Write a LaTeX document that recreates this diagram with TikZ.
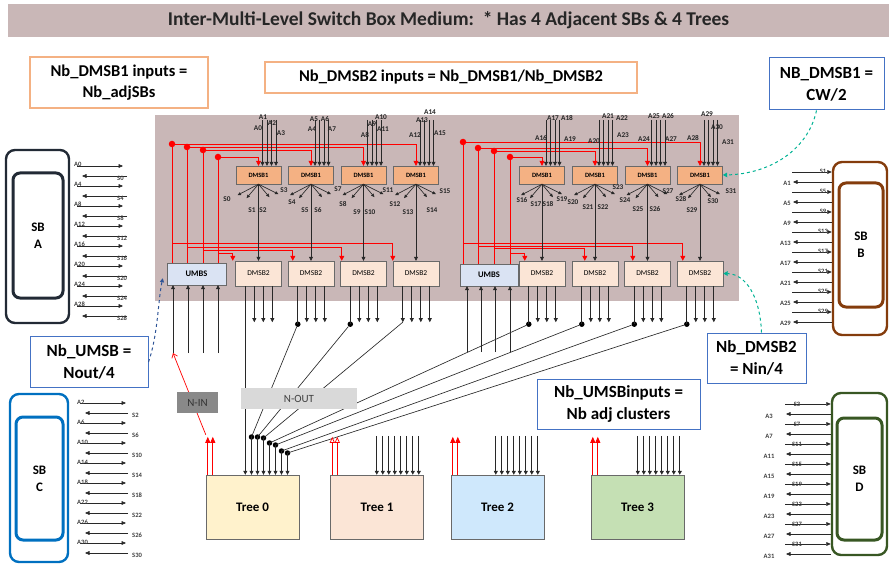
\documentclass[tikz,border=0pt]{standalone}
\usepackage{fontspec}
\setmainfont{Carlito}
\usetikzlibrary{arrows.meta,calc}
\definecolor{mauve}{RGB}{201,183,183}
\definecolor{dmsbone}{RGB}{244,177,131}
\definecolor{dmsbtwo}{RGB}{251,229,214}
\definecolor{umbsc}{RGB}{218,227,243}
\definecolor{treezero}{RGB}{255,242,204}
\definecolor{treeone}{RGB}{251,229,214}
\definecolor{treetwo}{RGB}{207,232,252}
\definecolor{treethree}{RGB}{197,224,180}
\definecolor{orangeb}{RGB}{244,177,131}
\definecolor{blueb}{RGB}{68,114,196}
\definecolor{sbAc}{RGB}{34,42,53}
\definecolor{sbBc}{RGB}{132,60,12}
\definecolor{sbCc}{RGB}{0,112,192}
\definecolor{sbDc}{RGB}{56,87,35}
\definecolor{tealc}{RGB}{0,178,148}
\definecolor{dblue}{RGB}{47,85,151}
\definecolor{boxgray}{RGB}{105,105,105}
\definecolor{wirec}{RGB}{40,40,40}
\definecolor{ningray}{RGB}{137,137,137}
\definecolor{noutgray}{RGB}{217,217,217}
\tikzset{
 wire/.style={draw=wirec, line width=0.65pt},
 arr/.style={wire, -{Triangle[width=4pt,length=4pt]}},
 farr/.style={wire, -{Triangle[width=3pt,length=3.5pt]}},
 sarr/.style={wire, -{Triangle[width=3.8pt,length=4.5pt]}},
 rwire/.style={draw=red, line width=0.7pt},
 rarr/.style={rwire, -{Triangle[width=5pt,length=5pt]}},
 rup/.style={rwire, -{Triangle[width=5pt,length=6pt]}},
 rdot/.style={circle, fill=red, inner sep=0, minimum size=6.5pt},
 bdot/.style={circle, fill=black, inner sep=0, minimum size=5.5pt},
 dmsbA/.style={draw=boxgray, fill=dmsbone, minimum width=45pt, minimum height=18pt, inner sep=0, font=\bfseries\fontsize{6.5}{7}\selectfont},
 dmsbB/.style={draw=boxgray, fill=dmsbtwo, minimum width=46pt, minimum height=25pt, inner sep=0, font=\fontsize{7.5}{8}\selectfont},
 umbs/.style={draw=boxgray, fill=umbsc, minimum width=59pt, minimum height=22pt, inner sep=0, font=\bfseries\fontsize{8.5}{9}\selectfont},
 tree/.style={draw=boxgray, minimum width=93pt, minimum height=64pt, inner sep=0, font=\bfseries\fontsize{13}{15}\selectfont},
 onote/.style={draw=orangeb, line width=2.2pt, fill=white, inner sep=0, align=center, font=\bfseries\fontsize{16.5}{21}\selectfont},
 bnote/.style={draw=blueb, line width=1pt, fill=white, inner sep=0, align=center, font=\bfseries\fontsize{17}{22}\selectfont},
 lab/.style={inner sep=0, font=\bfseries\fontsize{7.3}{8}\selectfont, text=black!85},
 slab/.style={inner sep=0, font=\bfseries\fontsize{6.6}{7}\selectfont, text=black!75},
 sbtext/.style={font=\bfseries\fontsize{13}{17}\selectfont, align=center},
}
\begin{document}
\begin{tikzpicture}[x=1pt,y=-1pt]
\useasboundingbox (0,0) rectangle (889,564);
% title and core
\node[fill=mauve, minimum width=881pt, minimum height=33pt, inner sep=0, font=\bfseries\fontsize{19.5}{22}\selectfont, text=black!85] (title) at (448.5,20.5) {Inter-Multi-Level Switch Box Medium:\ \ * Has 4 Adjacent SBs \& 4 Trees};
\node[fill=mauve, minimum width=584pt, minimum height=186pt, inner sep=0] (core) at (447,208) {};
% notes
\node[onote, minimum width=178pt, minimum height=51pt] (nA) at (119,82.5) {Nb\_DMSB1 inputs =\\Nb\_adjSBs};
\node[onote, minimum width=372pt, minimum height=31pt] (nB) at (451,77.5) {Nb\_DMSB2 inputs = Nb\_DMSB1/Nb\_DMSB2};
\node[bnote, minimum width=115pt, minimum height=52pt] (nC) at (826.5,84) {NB\_DMSB1 =\\CW/2};
\node[bnote, minimum width=118pt, minimum height=51pt] (nD) at (89,362) {Nb\_UMSB =\\Nout/4};
\node[bnote, minimum width=99pt, minimum height=50pt] (nE) at (756.5,358) {Nb\_DMSB2\\= Nin/4};
\node[bnote, minimum width=163pt, minimum height=50pt] (nF) at (618.5,404) {Nb\_UMSBinputs =\\Nb adj clusters};
% boxes
\foreach \i/\x in {1/258.5,2/311,3/363.5,4/416,5/542,6/595,7/647.5,8/700}{
  \node[dmsbA] (da\i) at (\x,175) {DMSB1};
  \node[dmsbB] (db\i) at (\x,273.5) {DMSB2};
}
\node[umbs] (umbsL) at (196.5,274) {UMBS};
\node[umbs, minimum width=58pt] (umbsR) at (489,275) {UMBS};
% red control lines, left group
\foreach \k/\x/\ya/\yb/\tgt/\off in {1/172/144/243/4/0, 2/187/147/247/3/1.5, 3/203/150/250/2/5, 4/218/157/253/1/-2.5}{
  \node[rdot] (rl\k) at (\x,\ya) {};
  \coordinate (rlj\k) at (\x,\yb);
  \draw[rwire] (rl\k.center) -- (rl\k.center |- umbsL.north);
  \draw[rarr] (rl\k.center) -| (da\tgt.north);
  \draw[rarr] (rlj\k) -| ($(db\tgt.north west)+(\off,0)$);
}
% red control lines, right group
\foreach \k/\x/\ya/\yb/\tgt/\off in {1/463/142/243/8/6, 2/478/148/246/7/8.5, 3/494/151/248.5/6/13, 4/510/157/253/5/6}{
  \node[rdot] (rr\k) at (\x,\ya) {};
  \coordinate (rrj\k) at (\x,\yb);
  \draw[rwire] (rr\k.center) -- (rr\k.center |- umbsR.north);
  \draw[rarr] (rr\k.center) -| (da\tgt.north);
  \draw[rarr] (rrj\k) -| ($(db\tgt.north west)+(\off,0)$);
}
% DMSB1 inputs
\foreach \i in {1,...,8}{\foreach \j in {0,...,3}{
  \draw[arr] ($(da\i.north)+({4+4.5*\j},-46)$) -- ($(da\i.north)+({4+4.5*\j},0)$);}}
% DMSB1 fans
\foreach \i in {1,...,8}{\foreach \dx/\dy in {-21/11,-12/14,11/13,20/10}{
  \draw[farr] (da\i.south) -- ++(\dx,\dy);}}
% DMSB1 -> DMSB2
\foreach \i in {1,...,8}{\draw[arr] (da\i.south) -- (db\i.north);}
% DMSB2 outputs
\foreach \i in {1,...,8}{\foreach \o in {19,28,37}{
  \draw[arr] ($(db\i.south west)+(\o,0)$) -- ++(0,36);}}
\foreach \i in {2,3,5,6,7,8}{
  \node[bdot] (o\i) at ($(db\i.south west)+(10,38)$) {};
  \draw[wire] ($(db\i.south west)+(10,0)$) -- (o\i.center);}
\coordinate (o4) at ($(db4.south west)+(10,36)$);
\draw[arr] ($(db4.south west)+(10,0)$) -- (o4);
% trees
\node[tree, fill=treezero] (t0) at (252.5,507) {Tree 0};
\node[tree, fill=treeone] (t1) at (377,507) {Tree 1};
\node[tree, fill=treetwo] (t2) at (497.5,507) {Tree 2};
\node[tree, fill=treethree] (t3) at (637.5,507) {Tree 3};
\draw[arr] ($(db1.south west)+(10,0)$) -- ($(t0.north west)+(39.5,0)$);
\foreach \k/\y in {1/437,2/437,3/438,4/443,5/445,6/451,7/453}{
  \node[bdot] (t0d\k) at ({245.5+6*\k},\y) {};
  \draw[arr] (t0d\k.center) -- (t0d\k.center |- t0.north);}
\foreach \k/\s in {1/2,2/3,3/4,4/5,5/6,6/7,7/8}{\draw[wire] (t0d\k.center) -- (o\s);}
\foreach \t/\o in {1/46.5,2/45,3/47}{\foreach \j in {0,...,7}{
  \draw[arr] ($(t\t.north west)+({\o+6*\j},-39)$) -- ($(t\t.north west)+({\o+6*\j},0)$);}}
\foreach \t in {0,2,3}{\foreach \o in {2,7}{\draw[rup] ($(t\t.north west)+(\o,0)$) -- ++(0,-38);}}
\foreach \o in {2,7}{\draw[rwire, -{Triangle[open,width=5pt,length=6pt]}] ($(t1.north west)+(\o,0)$) -- ++(0,-38);}
% UMBS inputs
\foreach \j/\x in {1/173,2/188,3/203,4/218}{\coordinate (ul\j) at (\x,353); \draw[arr] (ul\j) -- (ul\j |- umbsL.south);}
\foreach \j/\x in {1/467,2/481,3/495,4/510}{\coordinate (ur\j) at (\x,352); \draw[arr] (ur\j) -- (ur\j |- umbsR.south);}
\draw[rwire, -{Straight Barb[width=6pt,length=4pt]}] ($(t0.north west)+(0,-40)$) -- (ul1);
% N-IN / N-OUT
\node[fill=ningray, minimum width=41pt, minimum height=21pt, inner sep=0, font=\fontsize{11}{12}\selectfont, text=black!80] (nin) at (197.5,402.5) {N-IN};
\node[fill=noutgray, minimum width=116pt, minimum height=21pt, inner sep=0, font=\fontsize{11}{12}\selectfont, text=black!75] (nout) at (299,398.5) {N-OUT};
% central labels
\foreach \t/\x/\y in {A0/258/128,A1/263/117,A2/272/123,A3/281/133,A4/312/129,A5/314/119,A6/325/119,A7/332/129,A8/365/135,A9/372/124,A10/381/117,A11/383/129,A12/415/135,A13/422/120,A14/430/112,A15/440/133,A16/541/138,A17/553/118,A18/567/118,A19/570/139,A20/594/141,A21/608/116,A22/622/118,A23/623/135,A24/644/139,A25/654/116,A26/668/116,A27/671/139,A28/693/138,A29/707/114,A30/717/127,A31/728/142}{\node[lab] at (\x,\y) {\t};}
\foreach \t/\x/\y in {S0/227/199,S1/252/210,S2/263/210,S3/284/190,S4/292/202,S5/305/210,S6/318/210,S7/338/189,S8/343/204,S9/357/212,S10/370/212,S11/388/190,S12/395/204,S13/408/212,S14/432/210,S15/445/191,S16/522/200,S17/536/204,S18/548/204,S19/562/199,S20/573/202,S21/588/207,S22/603/207,S23/618/187,S24/625/200,S25/638/209,S26/655/209,S27/668/191,S28/681/199,S29/692/210,S30/713/201,S31/731/191}{\node[lab] at (\x,\y) {\t};}
% switch boxes
\node[draw=sbAc, line width=2.4pt, rounded corners=9pt, minimum width=63pt, minimum height=173pt, inner sep=0] (sbAo) at (37.5,236.5) {};
\node[draw=sbAc, line width=3pt, rounded corners=7pt, minimum width=50pt, minimum height=125pt, inner sep=0, sbtext] (sbA) at (38,235.5) {SB\\A};
\node[draw=sbBc, line width=2.4pt, rounded corners=9pt, minimum width=54pt, minimum height=173pt, inner sep=0] (sbBo) at (860,248.5) {};
\node[draw=sbBc, line width=3pt, rounded corners=7pt, minimum width=44pt, minimum height=124pt, inner sep=0, sbtext] (sbB) at (861,245) {SB\\B};
\node[draw=sbCc, line width=2.4pt, rounded corners=9pt, minimum width=58pt, minimum height=168pt, inner sep=0] (sbCo) at (39,478) {};
\node[draw=sbCc, line width=3pt, rounded corners=7pt, minimum width=47pt, minimum height=123pt, inner sep=0, sbtext] (sbC) at (39.5,478.5) {SB\\C};
\node[draw=sbDc, line width=2.4pt, rounded corners=9pt, minimum width=55pt, minimum height=162pt, inner sep=0] (sbDo) at (859.5,474) {};
\node[draw=sbDc, line width=3pt, rounded corners=7pt, minimum width=45pt, minimum height=122pt, inner sep=0, sbtext] (sbD) at (859.5,479) {SB\\D};
% SB A arrows
\foreach \i in {0,...,7}{
  \pgfmathsetmacro{\yr}{166+20*\i}\pgfmathsetmacro{\yl}{176+20*\i}
  \pgfmathtruncatemacro{\n}{4*\i}
  \draw[sarr] (77,\yr) -- (123,\yr);
  \draw[sarr] (127,\yl) -- (82,\yl);
  \node[slab, anchor=west] at (74,\yr-2) {A\n};
  \node[slab, anchor=west] at (117,\yl+2.5) {S\n};}
% SB B arrows
\foreach \i in {0,...,7}{
  \pgfmathsetmacro{\yr}{172+20*\i}\pgfmathsetmacro{\yl}{182+20*\i}
  \pgfmathtruncatemacro{\n}{4*\i+1}
  \draw[sarr] (792,\yr) -- (sbBo.west |- 0,\yr);
  \draw[sarr] (sbBo.west |- 0,\yl) -- (793,\yl);
  \node[slab] at (823,\yr-1) {S\n};
  \node[slab, anchor=east] at (791,\yl+1) {A\n};}
% SB C arrows
\foreach \i in {0,...,7}{
  \pgfmathsetmacro{\yr}{403+20*\i}\pgfmathsetmacro{\yl}{413+20*\i}
  \pgfmathtruncatemacro{\n}{4*\i+2}
  \draw[sarr] (80,\yr) -- (126,\yr);
  \draw[sarr] (128,\yl) -- (85,\yl);
  \node[slab, anchor=west] at (77,\yr-1) {A\n};
  \node[slab, anchor=west] at (132,\yl+2) {S\n};}
% SB D arrows
\foreach \i in {0,...,7}{
  \pgfmathsetmacro{\yr}{404+20*\i}\pgfmathsetmacro{\yl}{414+20*\i}
  \pgfmathtruncatemacro{\n}{4*\i+3}
  \draw[sarr] (785,\yr) -- (sbDo.west |- 0,\yr);
  \draw[sarr] (sbDo.west |- 0,\yl) -- (786,\yl);
  \node[slab] at (797,\yr) {S\n};
  \node[slab] at (769,\yl+2.5) {A\n};}
% dashed notes connectors
\draw[dashed, draw=dblue, line width=1pt, -{Triangle[width=4pt,length=4pt]}] (nD.east) .. controls (158,335) and (158,300) .. ($(umbsL.south west)+(-4,-7)$);
\draw[dashed, draw=tealc, line width=1pt, -{Triangle[width=4.5pt,length=4.5pt]}] ($(nC.south)+(-10,0)$) .. controls (808,150) and (770,174) .. (da8.east);
\draw[dashed, draw=tealc, line width=1pt, -{Triangle[width=4.5pt,length=4.5pt]}] ($(nE.north)+(5,0)$) .. controls (760,295) and (745,274) .. (db8.east);
\end{tikzpicture}
\end{document}
